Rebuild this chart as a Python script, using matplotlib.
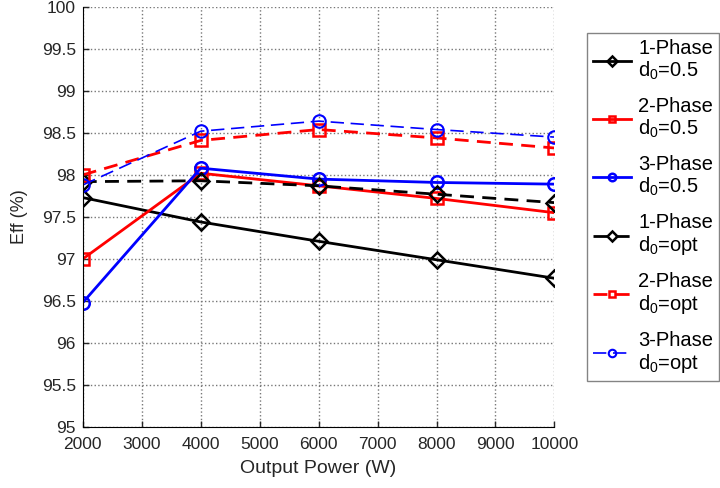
import numpy as np
import matplotlib
matplotlib.use("Agg")
import matplotlib.pyplot as plt

plt.rcParams['font.family'] = ['Liberation Sans', 'DejaVu Sans']

power = [2000, 4000, 6000, 8000, 10000]

# efficiency (%)
ph1_05 = [97.73, 97.44, 97.21, 96.99, 96.77]
ph2_05 = [97.00, 98.02, 97.87, 97.72, 97.55]
ph3_05 = [96.48, 98.08, 97.95, 97.91, 97.89]
ph1_opt = [97.92, 97.93, 97.87, 97.77, 97.67]
ph2_opt = [98.00, 98.41, 98.54, 98.44, 98.32]
ph3_opt = [97.88, 98.52, 98.64, 98.54, 98.45]

labels = ["1-Phase\n$\\mathregular{d_0}$=0.5", "2-Phase\n$\\mathregular{d_0}$=0.5",
          "3-Phase\n$\\mathregular{d_0}$=0.5", "1-Phase\n$\\mathregular{d_0}$=opt",
          "2-Phase\n$\\mathregular{d_0}$=opt", "3-Phase\n$\\mathregular{d_0}$=opt"]

fig = plt.figure(figsize=(7.2, 4.88), dpi=100)
ax = fig.add_axes([0.115, 0.125, 0.655, 0.861])

ax.plot(power, ph1_05, '-', color='black', lw=2, marker='D', ms=8, mfc='none', mew=1.8, label=labels[0])
ax.plot(power, ph2_05, '-', color='red', lw=2, marker='s', ms=8, mfc='none', mew=1.8, label=labels[1])
ax.plot(power, ph3_05, '-', color='blue', lw=2, marker='o', ms=9, mfc='none', mew=1.8, label=labels[2])
ax.plot(power, ph1_opt, '--', color='black', lw=2, dashes=(5, 3), marker='D', ms=8, mfc='none', mew=1.8, label=labels[3])
ax.plot(power, ph2_opt, '--', color='red', lw=2, dashes=(5, 3), marker='s', ms=8, mfc='none', mew=1.8, label=labels[4])
ax.plot(power, ph3_opt, '--', color='blue', lw=1.2, dashes=(8, 4), marker='o', ms=9, mfc='none', mew=1.5, label=labels[5])

ax.set_xlim(2000, 10000)
ax.set_ylim(95, 100)
ax.set_xticks(np.arange(2000, 10001, 1000))
ax.set_yticks(np.arange(95, 100.01, 0.5))
ax.set_yticklabels([f"{v:g}" for v in np.arange(95, 100.01, 0.5)])
ax.tick_params(labelsize=12.5, colors='#262626', direction='in', length=4, width=1)
ax.tick_params(axis='x', pad=7)
ax.tick_params(axis='y', pad=5)
ax.grid(True, linestyle=':', color='#777777', lw=1)
ax.spines['top'].set_visible(False)
ax.spines['right'].set_visible(False)
ax.set_xlabel("Output Power (W)", fontsize=14, color='#262626', labelpad=6)
ax.set_ylabel("Eff (%)", fontsize=13, color='#262626', labelpad=10)

leg = ax.legend(loc='upper left', bbox_to_anchor=(1.069, 0.938), fontsize=14.5,
                frameon=True, fancybox=False, edgecolor='#666666', handlelength=1.9,
                markerscale=0.6, labelspacing=0.75, borderpad=0.3, handletextpad=0.35,
                borderaxespad=0)
leg.get_frame().set_linewidth(1)
for t in leg.get_texts():
    t.set_linespacing(1.1)

fig.savefig("out.png", dpi=100)
